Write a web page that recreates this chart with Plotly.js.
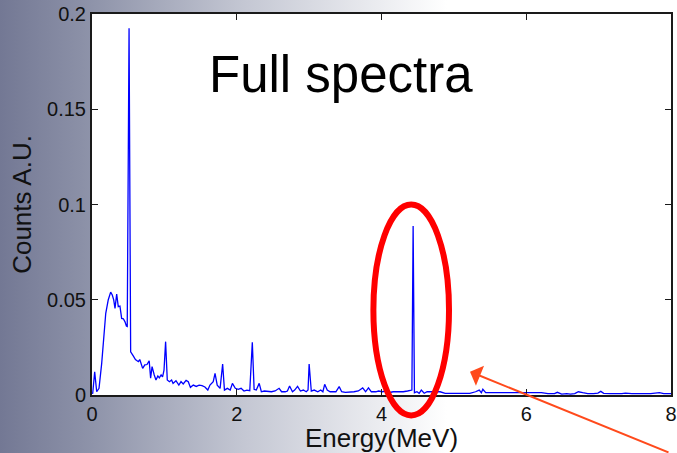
<!DOCTYPE html>
<html>
<head>
<meta charset="utf-8">
<script src="https://cdn.plot.ly/plotly-3.0.1.min.js"></script>
<style>
  html, body { margin: 0; padding: 0; }
  body {
    width: 677px; height: 453px; overflow: hidden;
    background: linear-gradient(to right, rgb(115,120,148) 0%, rgb(143,148,170) 14%, rgb(196,199,211) 36%, rgb(255,255,255) 66%, rgb(255,255,255) 100%);
  }
  #chart { width: 677px; height: 453px; }
</style>
</head>
<body>
<div id="chart"></div>
<script>
// Energy (MeV)
var energy = [
  0.0, 0.01, 0.037, 0.065, 0.097, 0.134, 0.19, 0.225, 0.258, 0.28, 0.30, 0.318, 0.341, 0.363, 0.386,
  0.41, 0.433, 0.456, 0.475, 0.487, 0.512, 0.534, 0.57, 0.60, 0.64, 0.66, 0.70, 0.73, 0.76, 0.79,
  0.81, 0.83, 0.86, 0.884, 0.91, 0.93, 0.955, 0.975, 0.995, 1.017, 1.04, 1.07, 1.10, 1.12, 1.16,
  1.20, 1.23, 1.26, 1.30, 1.33, 1.36, 1.40, 1.44, 1.48, 1.52, 1.56, 1.60, 1.63, 1.675, 1.70,
  1.73, 1.77, 1.805, 1.83, 1.87, 1.91, 1.94, 1.98, 2.02, 2.06, 2.10, 2.14, 2.18, 2.215, 2.24,
  2.27, 2.31, 2.34, 2.38, 2.43, 2.48, 2.53, 2.585, 2.62, 2.67, 2.70, 2.73, 2.77, 2.80, 2.84,
  2.88, 2.92, 2.96, 2.985, 3.00, 3.03, 3.07, 3.12, 3.16, 3.19, 3.215, 3.25, 3.29, 3.33, 3.37,
  3.415, 3.45, 3.50, 3.56, 3.62, 3.68, 3.74, 3.78, 3.82, 3.86, 3.92, 3.96, 4.01, 4.06, 4.10,
  4.16, 4.23, 4.30, 4.36, 4.42, 4.437, 4.455, 4.49, 4.52, 4.55, 4.59, 4.63, 4.70, 4.81, 4.88,
  4.97, 5.06, 5.14, 5.22, 5.30, 5.35, 5.38, 5.40, 5.44, 5.52, 5.62, 5.72, 5.82, 5.92, 6.02,
  6.10, 6.21, 6.30, 6.39, 6.43, 6.49, 6.56, 6.61, 6.67, 6.72, 6.78, 6.85, 6.93, 6.99, 7.03,
  7.07, 7.16, 7.25, 7.32, 7.37, 7.46, 7.60, 7.72, 7.84, 7.90, 8.00
];
// Counts (arbitrary units)
var counts = [
  0.0008, 0.0009, 0.0122, 0.0017, 0.0035, 0.0166, 0.0429, 0.0500, 0.0540, 0.0525, 0.0499, 0.0455, 0.0530, 0.0464, 0.0467,
  0.0402, 0.0400, 0.0384, 0.0362, 0.0360, 0.1925, 0.0227, 0.0205, 0.0186, 0.0175, 0.0186, 0.0140, 0.0158, 0.0160, 0.0180,
  0.0088, 0.0149, 0.0105, 0.0079, 0.0100, 0.0090, 0.0105, 0.0095, 0.0130, 0.0280, 0.0079, 0.0070, 0.0079, 0.0061, 0.0075,
  0.0052, 0.0070, 0.0058, 0.0077, 0.0070, 0.0040, 0.0052, 0.0045, 0.0052, 0.0049, 0.0042, 0.0026, 0.0052, 0.0070, 0.0114,
  0.0052, 0.0035, 0.0163, 0.0026, 0.0035, 0.0026, 0.0061, 0.0035, 0.0030, 0.0035, 0.0021, 0.0026, 0.0023, 0.0277, 0.0030,
  0.0026, 0.0061, 0.0017, 0.0021, 0.0017, 0.0017, 0.0021, 0.0035, 0.0017, 0.0017, 0.0021, 0.0047, 0.0017, 0.0026, 0.0045,
  0.0021, 0.0026, 0.0017, 0.0026, 0.0163, 0.0020, 0.0026, 0.0017, 0.0026, 0.0017, 0.0056, 0.0026, 0.0017, 0.0017, 0.0017,
  0.0044, 0.0017, 0.0014, 0.0014, 0.0017, 0.0021, 0.0037, 0.0017, 0.0038, 0.0017, 0.0017, 0.0021, 0.0017, 0.0021, 0.0012,
  0.0017, 0.0017, 0.0017, 0.0021, 0.0026, 0.0887, 0.0012, 0.0017, 0.0009, 0.0026, 0.0009, 0.0017, 0.0017, 0.0017, 0.0009,
  0.0009, 0.0009, 0.0012, 0.0009, 0.0017, 0.0026, 0.0012, 0.0030, 0.0012, 0.0012, 0.0009, 0.0009, 0.0012, 0.0009, 0.0009,
  0.0012, 0.0012, 0.0007, 0.0007, 0.0014, 0.0005, 0.0007, 0.0005, 0.0007, 0.0017, 0.0012, 0.0007, 0.0007, 0.0010, 0.0019,
  0.0009, 0.0007, 0.0005, 0.0007, 0.0010, 0.0007, 0.0007, 0.0007, 0.0012, 0.0007, 0.0007
];
var xTicks = [0, 2, 4, 6, 8];
var xTickText = ['0', '2', '4', '6', '8'];
var yTicks = [0, 0.05, 0.1, 0.15, 0.2];
var yTickText = ['0', '0.05', '0.1', '0.15', '0.2'];
var chartTitle = 'Full spectra';
var xTitle = 'Energy(MeV)';
var yTitle = 'Counts A.U.';

var trace = {
  x: energy, y: counts, type: 'scatter', mode: 'lines',
  line: { color: '#0000ff', width: 1.3 },
  hoverinfo: 'skip'
};

var axisCommon = {
  showline: true, linecolor: '#1a1a1a', linewidth: 2, mirror: 'ticks',
  ticks: 'inside', ticklen: 6, tickwidth: 1, tickcolor: '#1a1a1a',
  showgrid: false, zeroline: false,
  tickfont: { family: 'Liberation Sans, Arial, sans-serif', size: 20, color: '#111' }
};

var layout = {
  width: 677, height: 453,
  margin: { l: 92, r: 6, t: 14, b: 58, pad: 0 },
  paper_bgcolor: 'rgba(0,0,0,0)',
  plot_bgcolor: '#ffffff',
  showlegend: false,
  xaxis: Object.assign({}, axisCommon, {
    range: [0, 8], tickmode: 'array', tickvals: xTicks, ticktext: xTickText,
    title: { text: xTitle, standoff: 4, font: { family: 'Liberation Sans, Arial, sans-serif', size: 26, color: '#111' } }
  }),
  yaxis: Object.assign({}, axisCommon, {
    range: [0, 0.2], tickmode: 'array', tickvals: yTicks, ticktext: yTickText,
    title: { text: yTitle, standoff: 8, font: { family: 'Liberation Sans, Arial, sans-serif', size: 26, color: '#111' } }
  }),
  annotations: [
    {
      text: chartTitle, xref: 'paper', yref: 'paper', x: 0.43, y: 0.84,
      xanchor: 'center', yanchor: 'middle', showarrow: false,
      font: { family: 'Comic Sans MS, Liberation Sans, Arial, sans-serif', size: 51, color: '#000' }
    },
    {
      text: '', xref: 'paper', yref: 'paper',
      x: (470 - 92) / 579, y: (395 - 371.7) / 381,
      ax: 200, ay: 94, axref: 'pixel', ayref: 'pixel',
      showarrow: true, arrowhead: 1, arrowsize: 1.8, arrowwidth: 2, arrowcolor: '#ff4a1c'
    }
  ],
  shapes: [
    {
      type: 'circle', xref: 'paper', yref: 'paper',
      x0: 0.486, x1: 0.6166, y0: -0.0538, y1: 0.5,
      line: { color: '#ff0000', width: 6 }, fillcolor: 'rgba(0,0,0,0)', layer: 'above'
    }
  ]
};

Plotly.newPlot('chart', [trace], layout, { staticPlot: true, displayModeBar: false });
</script>
</body>
</html>
